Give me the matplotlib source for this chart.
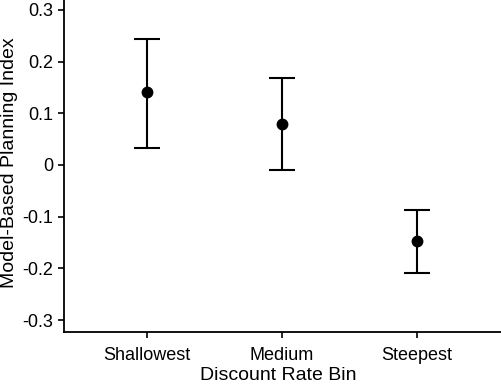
import numpy as np
import matplotlib.pyplot as plt

plt.rcParams['font.family'] = ['Liberation Sans', 'DejaVu Sans']

# 数据
bins = ['Shallowest', 'Medium', 'Steepest']
means = [0.141, 0.079, -0.147]
upper = [0.244, 0.168, -0.087]
lower = [0.033, -0.010, -0.209]

x = np.arange(1, len(bins) + 1)
err = [np.array(means) - np.array(lower), np.array(upper) - np.array(means)]

fig = plt.figure(figsize=(5.01, 3.87), dpi=100)
ax = fig.add_axes([64 / 501, 1 - 332 / 387, 437 / 501, 332 / 387])

ax.errorbar(x, means, yerr=err, fmt='o', color='k', ecolor='k',
            markersize=7.5, elinewidth=1.5, capsize=9.5, capthick=1.5)

ax.set_xlim(0.39, 3.62)
ax.set_ylim(-0.323, 0.319)
ax.set_xticks(x)
ax.set_xticklabels(bins)
ax.set_yticks([-0.3, -0.2, -0.1, 0, 0.1, 0.2, 0.3])
ax.set_yticklabels(['-0.3', '-0.2', '-0.1', '0', '0.1', '0.2', '0.3'])
ax.tick_params(direction='out', length=4, width=1.2, labelsize=13)
ax.tick_params(axis='x', pad=7)

ax.spines['top'].set_visible(False)
ax.spines['right'].set_visible(False)
ax.spines['left'].set_linewidth(1.3)
ax.spines['bottom'].set_linewidth(1.3)

ax.set_xlabel('Discount Rate Bin', fontsize=14)
ax.xaxis.set_label_coords(0.491, -0.105)
ax.set_ylabel('Model-Based Planning Index', fontsize=14)
ax.yaxis.set_label_coords(-0.105, 0.51)

fig.savefig('out.png', dpi=100)
